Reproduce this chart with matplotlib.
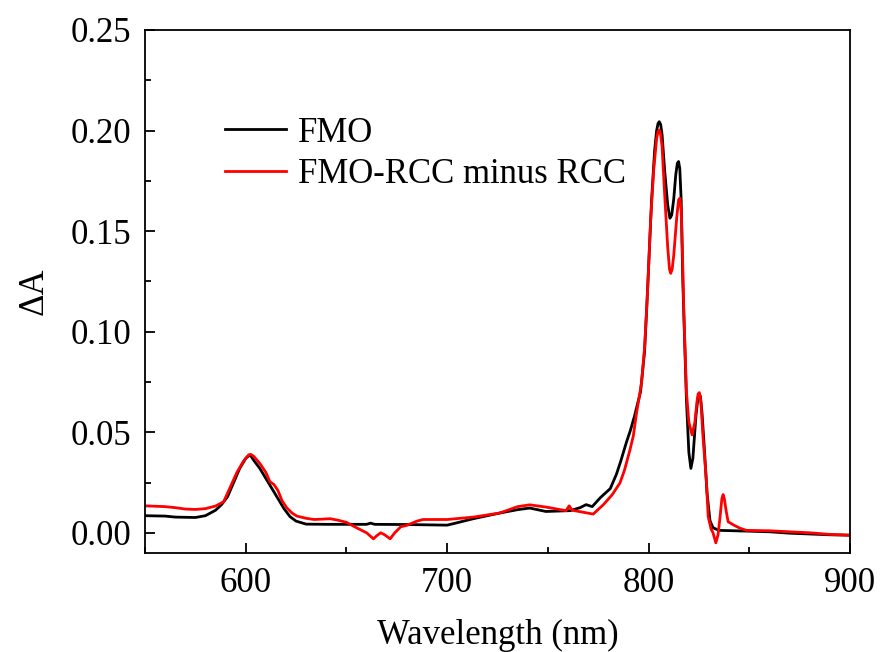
import matplotlib
matplotlib.use('Agg')
import matplotlib.pyplot as plt
from matplotlib.ticker import MultipleLocator, FormatStrFormatter

# FMO spectrum (black)
fmo_wl = [550, 560, 565, 575, 580, 585, 588, 591, 594, 597, 600, 601.5, 602.5, 604, 607,
          610, 613, 616, 619, 622, 625, 630, 640, 660, 662, 664, 680, 700, 705, 713,
          726, 735, 741, 749, 761, 766, 769, 772, 776, 781, 784, 786, 789, 791, 793,
          796, 798, 799, 800, 801.5, 803, 804, 804.7, 805.3, 806, 806.7, 808, 809.5,
          810.6, 811.5, 812.5, 813.5, 814.3, 814.9, 815.5, 816.2, 817, 818.8, 820,
          821, 822, 823.5, 824.5, 825, 825.7, 826.5, 827.5, 829, 830.5, 832, 835, 850,
          860, 870, 880, 890, 900]
fmo_abs = [0.0085, 0.0083, 0.0078, 0.0076, 0.0085, 0.0112, 0.014, 0.018, 0.025, 0.032,
           0.037, 0.0383, 0.0383, 0.036, 0.032, 0.027, 0.022, 0.017, 0.012, 0.008,
           0.0058, 0.0043, 0.0042, 0.0042, 0.0048, 0.0042, 0.0041, 0.0038, 0.005, 0.007,
           0.0098, 0.0115, 0.0123, 0.0106, 0.011, 0.0125, 0.014, 0.013, 0.0174, 0.022,
           0.029, 0.035, 0.045, 0.051, 0.058, 0.07, 0.09, 0.11, 0.132, 0.1655, 0.19,
           0.2, 0.2035, 0.2044, 0.203, 0.198, 0.18, 0.163, 0.1564, 0.158, 0.166, 0.178,
           0.1838, 0.1846, 0.181, 0.165, 0.125, 0.066, 0.04, 0.032, 0.037, 0.058, 0.067,
           0.069, 0.068, 0.06, 0.045, 0.02, 0.006, 0.0025, 0.0012, 0.0008, 0.0005,
           -0.0002, -0.0006, -0.001, -0.0012]

# FMO-RCC minus RCC difference spectrum (red)
diff_wl = [550, 555, 560, 565, 570, 575, 580, 585, 589, 592, 595.6, 599, 601.5, 602.5,
           604, 607, 610, 612, 614, 616, 618, 620.4, 623, 625.4, 630, 634, 638, 642,
           646, 650, 655, 660, 663.4, 665, 667, 669, 671.7, 674, 677, 680, 685, 688,
           700, 713, 726, 735, 741, 749, 759, 760.6, 762, 766, 772.5, 777.5, 782, 785.8,
           788, 790.7, 792.4, 794, 796.5, 798, 799.5, 801, 802.5, 804, 804.7, 805.3,
           806, 806.7, 808, 809.5, 810.4, 811, 811.7, 812.5, 814, 814.9, 815.6, 816.2,
           816.8, 817.5, 818.8, 820, 821.6, 823, 824, 824.6, 825.2, 826, 827, 828.7,
           829.6, 831, 832, 833.4, 834.5, 835.5, 836.4, 837, 837.6, 838.5, 839.5, 842,
           845.3, 848.6, 860, 870, 880, 890, 900]
diff_abs = [0.0134, 0.0132, 0.013, 0.0125, 0.0118, 0.0116, 0.012, 0.0133, 0.0154, 0.022,
            0.03, 0.0358, 0.0388, 0.039, 0.038, 0.0345, 0.03, 0.0254, 0.024, 0.021,
            0.016, 0.0124, 0.0098, 0.0083, 0.0072, 0.0066, 0.0068, 0.007, 0.0062, 0.0052,
            0.0025, 0.0, -0.003, -0.0015, 0.0, -0.001, -0.003, 0.0, 0.003, 0.0037,
            0.0058, 0.0066, 0.0066, 0.0078, 0.0098, 0.013, 0.0139, 0.0128, 0.011, 0.0134,
            0.0112, 0.0105, 0.0093, 0.0139, 0.019, 0.0248, 0.031, 0.041, 0.048, 0.0594,
            0.0745, 0.092, 0.12, 0.155, 0.18, 0.196, 0.1995, 0.2003, 0.198, 0.192,
            0.168, 0.142, 0.131, 0.129, 0.131, 0.138, 0.157, 0.1655, 0.1664, 0.16,
            0.14, 0.11, 0.07, 0.055, 0.0487, 0.055, 0.065, 0.069, 0.0697, 0.065, 0.048,
            0.026, 0.008, 0.002, 0.0, -0.005, -0.001, 0.008, 0.017, 0.019, 0.017, 0.011,
            0.0055, 0.004, 0.0023, 0.0012, 0.001, 0.0005, 0.0, -0.0008, -0.0012]

plt.rcParams['font.family'] = ['Liberation Serif', 'DejaVu Serif']
plt.rcParams['font.size'] = 25

fig = plt.figure(figsize=(8.8, 6.52), dpi=100)
ax = fig.add_axes([0.1648, 0.152, 0.8011, 0.802])

ax.plot(fmo_wl, fmo_abs, color='black', lw=2.0, label='FMO')
ax.plot(diff_wl, diff_abs, color='red', lw=2.0, label='FMO-RCC minus RCC')

ax.set_xlim(550, 900)
ax.set_ylim(-0.01, 0.25)
ax.xaxis.set_major_locator(MultipleLocator(100))
ax.xaxis.set_minor_locator(MultipleLocator(50))
ax.yaxis.set_major_locator(MultipleLocator(0.05))
ax.yaxis.set_minor_locator(MultipleLocator(0.025))
ax.yaxis.set_major_formatter(FormatStrFormatter('%.2f'))
ax.tick_params(which='both', direction='in', top=False, right=False, width=1.3)
ax.tick_params(which='major', length=7, pad=10)
ax.tick_params(which='minor', length=4)
for s in ax.spines.values():
    s.set_linewidth(1.3)

ax.set_xlabel('Wavelength (nm)', labelpad=14)
ax.set_ylabel('ΔA', labelpad=14)

ax.legend(loc='upper left', bbox_to_anchor=(0.094, 0.861), frameon=False,
          handlelength=1.75, handletextpad=0.35, labelspacing=0.25, fontsize=25,
          borderaxespad=0)

fig.savefig('out.png', dpi=100)
